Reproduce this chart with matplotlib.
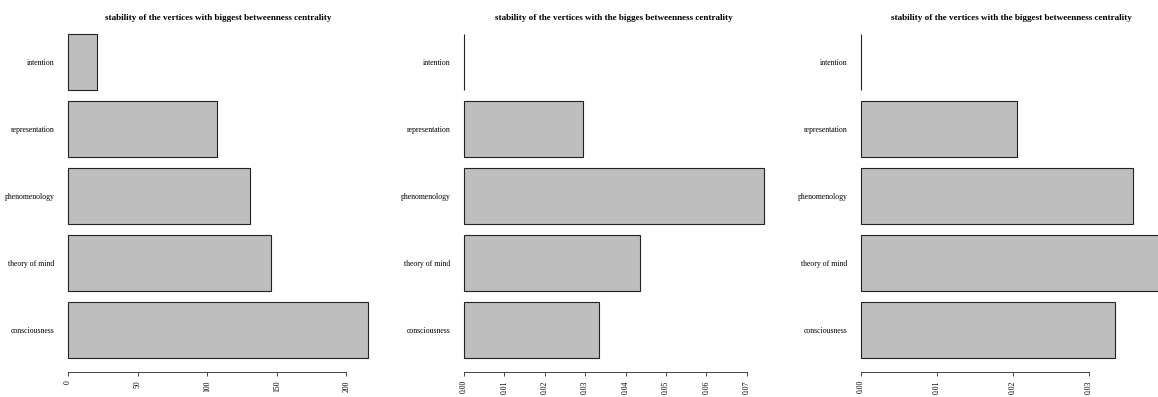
import matplotlib
matplotlib.use("Agg")
import matplotlib.pyplot as plt
from matplotlib.ticker import FormatStrFormatter

plt.rcParams['font.family'] = ['Liberation Serif', 'DejaVu Serif']

# vertices, listed bottom to top as barplot(horiz=TRUE) stacks them
vertices = ["consciousness", "theory of mind", "phenomenology", "representation", "intention"]

betweenness = [215.5, 146, 130.5, 107.3, 21]
stability_a = [0.0334, 0.0436, 0.0743, 0.0294, 0.0]
stability_b = [0.0334, 0.0395, 0.0358, 0.0206, 0.0]

titles = ["stability of the vertices with biggest betweenness centrality",
          "stability of the vertices with the bigges betweenness centrality",
          "stability of the vertices with the biggest betweenness centrality"]
tick_steps = [50, 0.01, 0.01]
tick_fmts = ["%d", "%.2f", "%.2f"]

W, H = 1158, 397
fig = plt.figure(figsize=(W / 100, H / 100), dpi=100)

lefts = [56, 452, 849]
panel_w = 324
top_px, bot_px = 34, 358

# R style bar layout: width 1, space 0.2
ypos = [0.2 + 0.5 + 1.2 * i for i in range(len(vertices))]
y_lo, y_hi = 0.2, ypos[-1] + 0.5

for k, vals in enumerate([betweenness, stability_a, stability_b]):
    ax = fig.add_axes([lefts[k] / W, 1 - bot_px / H, panel_w / W, (bot_px - top_px) / H])
    vmax = max(vals)
    bars = ax.barh(ypos, vals, height=1.0, color="#bebebe", edgecolor="#222222", linewidth=0.8)
    for b in bars:
        b.set_clip_on(False)
    ax.set_xlim(-0.04 * vmax, 1.04 * vmax)
    ax.set_ylim(y_lo, y_hi)

    step = tick_steps[k]
    n = int(vmax / step + 1e-9)
    ticks = [i * step for i in range(n + 1)]
    ax.set_xticks(ticks)
    ax.xaxis.set_major_formatter(FormatStrFormatter(tick_fmts[k]))
    ax.tick_params(axis='x', direction='out', length=3, width=0.7, color="#444444",
                   labelsize=5.6, labelrotation=90, pad=3)
    ax.spines['bottom'].set_position(('outward', 10))
    ax.spines['bottom'].set_bounds(ticks[0], ticks[-1])
    ax.spines['bottom'].set_color("#444444")
    ax.spines['bottom'].set_linewidth(0.7)
    for s in ['top', 'right', 'left']:
        ax.spines[s].set_visible(False)

    ax.set_yticks(ypos)
    ax.set_yticklabels(vertices)
    ax.tick_params(axis='y', length=0, labelsize=5.6, pad=1)

    ax.set_title(titles[k], fontsize=6.6, fontweight='bold', pad=10)
    ax.patch.set_alpha(0)

fig.savefig("out.png", dpi=100)
